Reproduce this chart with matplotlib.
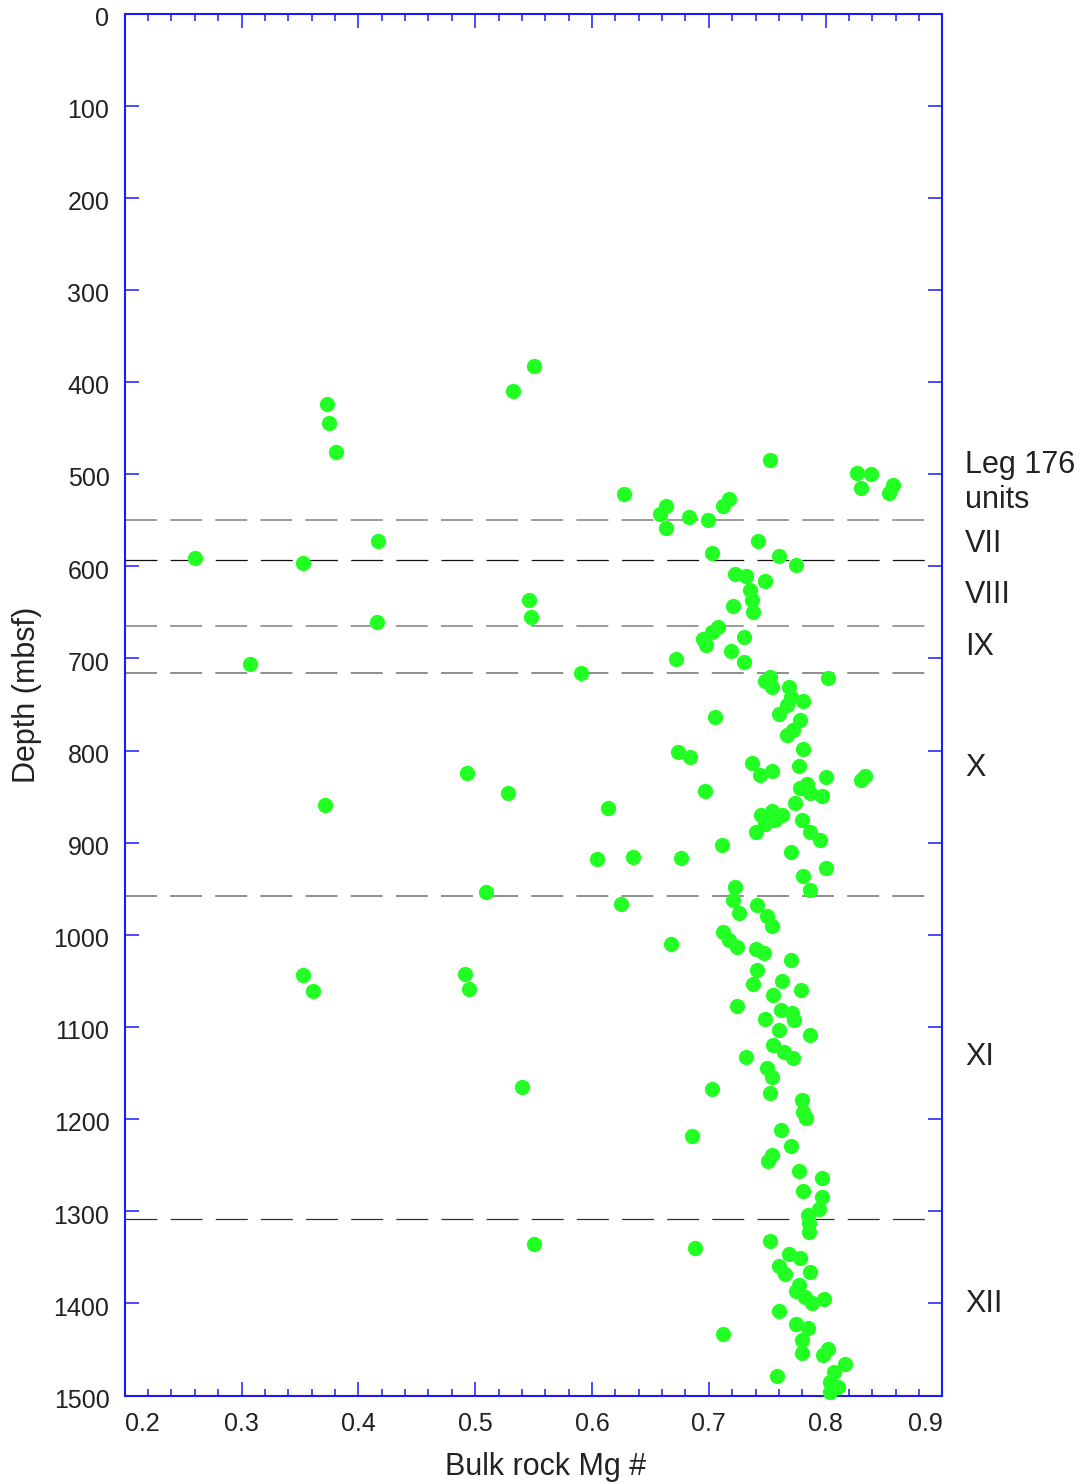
import matplotlib
matplotlib.use("Agg")
import matplotlib.pyplot as plt
from matplotlib.ticker import MultipleLocator
import matplotlib.transforms as mtransforms

plt.rcParams['font.family'] = ['Liberation Sans', 'DejaVu Sans']
plt.rcParams['lines.scale_dashes'] = False

# Bulk rock Mg # vs depth (mbsf)
mg_number = [
    0.550, 0.532, 0.373, 0.375, 0.381, 0.417, 0.260, 0.353, 0.546, 0.548,
    0.416, 0.307, 0.591,
    0.371, 0.493, 0.528, 0.614, 0.604, 0.635, 0.509, 0.625, 0.353, 0.361,
    0.491, 0.495, 0.540, 0.550, 0.676, 0.668,
    0.752, 0.827, 0.839, 0.830, 0.858, 0.854, 0.627, 0.663, 0.658, 0.663,
    0.683, 0.699, 0.717, 0.712, 0.742, 0.703, 0.760, 0.775, 0.722, 0.732,
    0.748, 0.735, 0.737, 0.721, 0.738, 0.708, 0.703, 0.695, 0.698, 0.730,
    0.719, 0.730, 0.672, 0.752, 0.748, 0.754, 0.802, 0.769, 0.770, 0.781,
    0.767, 0.760, 0.705, 0.778, 0.772, 0.767,
    0.781, 0.674, 0.684, 0.777, 0.737, 0.744, 0.754, 0.800, 0.830, 0.834,
    0.778, 0.784, 0.787, 0.797, 0.697, 0.774, 0.745, 0.754, 0.763, 0.748,
    0.740, 0.757, 0.780, 0.787, 0.795, 0.711, 0.770, 0.800, 0.781, 0.787,
    0.722, 0.721, 0.726, 0.741, 0.750, 0.754, 0.712, 0.717, 0.724, 0.740,
    0.747, 0.770, 0.741, 0.738, 0.763, 0.779, 0.755,
    0.724, 0.762, 0.771, 0.773, 0.748, 0.760, 0.787, 0.755, 0.764, 0.772,
    0.732, 0.750, 0.754, 0.703, 0.752, 0.780, 0.781, 0.783, 0.762, 0.686,
    0.770, 0.754, 0.751, 0.777, 0.797, 0.781, 0.797, 0.794, 0.785,
    0.786, 0.786, 0.752, 0.688, 0.769, 0.778, 0.760, 0.765, 0.787, 0.777,
    0.775, 0.782, 0.788, 0.799, 0.760, 0.775, 0.785, 0.780, 0.780, 0.712,
    0.802, 0.798, 0.817, 0.807, 0.804, 0.811, 0.804, 0.758,
]
depth = [
    383, 410, 424, 444, 476, 572, 591, 596, 637, 655,
    660, 706, 716,
    859, 824, 846, 862, 918, 915, 953, 966, 1044, 1061,
    1042, 1059, 1165, 1335, 917, 1010,
    485, 499, 500, 515, 512, 520, 522, 535, 543, 558,
    547, 550, 527, 535, 572, 586, 589, 599, 608, 611,
    616, 626, 637, 643, 650, 666, 671, 679, 685, 677,
    692, 704, 701, 720, 725, 731, 721, 731, 742, 746,
    751, 760, 763, 767, 778, 783,
    798, 801, 807, 817, 814, 827, 822, 829, 832, 828,
    841, 836, 846, 849, 844, 857, 870, 866, 870, 880,
    888, 875, 875, 888, 897, 903, 910, 927, 936, 951,
    948, 962, 976, 968, 979, 990, 997, 1006, 1013, 1015,
    1020, 1027, 1038, 1053, 1050, 1060, 1065,
    1077, 1081, 1085, 1092, 1091, 1103, 1109, 1119, 1127, 1134,
    1133, 1145, 1154, 1167, 1172, 1179, 1192, 1199, 1212, 1218,
    1229, 1239, 1245, 1256, 1264, 1278, 1284, 1297, 1304,
    1313, 1322, 1332, 1340, 1346, 1351, 1359, 1368, 1366, 1380,
    1387, 1393, 1400, 1395, 1408, 1422, 1427, 1440, 1454, 1433,
    1449, 1456, 1466, 1474, 1485, 1491, 1496, 1479,
]

# Leg 176 unit boundaries
boundary_depths = [550, 593, 665, 716, 957.5, 1308.5]
boundary_colors = ['#808080', '#111111', '#808080', '#707070', '#707070', '#303030']
boundary_widths = [1.1, 0.9, 1.1, 1.1, 1.1, 0.9]

unit_labels = ['VII', 'VIII', 'IX', 'X', 'XI', 'XII']
unit_label_depths = [584.5, 640, 696, 828, 1141, 1409]

x_ticks = [0.2, 0.3, 0.4, 0.5, 0.6, 0.7, 0.8, 0.9]
y_ticks = list(range(0, 1501, 100))

blue = '#1a1aff'

fig = plt.figure(figsize=(10.84, 14.84), dpi=100)
ax = fig.add_axes([0.1151, 0.0596, 0.7543, 0.9313])

for d, c, w in zip(boundary_depths, boundary_colors, boundary_widths):
    ax.plot([0.2, 0.893], [d, d], color=c, lw=w, linestyle=(0, (23, 9.5)), zorder=1)

ax.plot(mg_number, depth, 'o', color='#22ff22', ms=11, mec='none',
        zorder=3, clip_on=False)

ax.set_xlim(0.2, 0.9)
ax.set_ylim(1500, 0)
ax.set_xticks(x_ticks)
ax.set_xticklabels(['%.1f' % v for v in x_ticks])
ax.xaxis.set_minor_locator(MultipleLocator(0.02))
ax.set_yticks(y_ticks)
ax.set_yticklabels([str(v) for v in y_ticks])

ax.tick_params(axis='both', which='both', direction='in', colors=blue,
               labelcolor='#222222', top=True, right=True)
ax.tick_params(axis='both', which='major', length=10, width=1.1, labelsize=18)
ax.tick_params(axis='x', which='minor', length=5, width=1.1)
ax.tick_params(axis='x', which='major', pad=12)
ax.tick_params(axis='y', which='major', pad=11)

xlabels = ax.get_xticklabels()
xlabels[0].set_ha('left')
xlabels[-1].set_ha('right')

# y labels sit slightly below their ticks in the original
offset = mtransforms.ScaledTranslation(0, -2 / 72, fig.dpi_scale_trans)
for lab in ax.get_yticklabels():
    lab.set_transform(lab.get_transform() + offset)

for s in ax.spines.values():
    s.set_color(blue)
    s.set_linewidth(1.5)

ax.set_xlabel('Bulk rock Mg #', fontsize=22, color='#222222')
ax.set_ylabel('Depth (mbsf)', fontsize=22, color='#222222')
ax.xaxis.set_label_coords(0.515, -0.0515)
ax.xaxis.label.set_va('center')
ax.yaxis.set_label_coords(-0.1196, 0.507)
ax.yaxis.label.set_va('center')

trans = mtransforms.blended_transform_factory(ax.transAxes, ax.transData)
ax.text(1.0276, 498.7, 'Leg 176', transform=trans, fontsize=22,
        color='#222222', va='baseline', ha='left')
ax.text(1.0276, 536.7, 'units', transform=trans, fontsize=22,
        color='#222222', va='baseline', ha='left')
for lab, d in zip(unit_labels, unit_label_depths):
    ax.text(1.0276, d, lab, transform=trans, fontsize=22,
            color='#222222', va='baseline', ha='left')

fig.savefig('out.png', dpi=100)
